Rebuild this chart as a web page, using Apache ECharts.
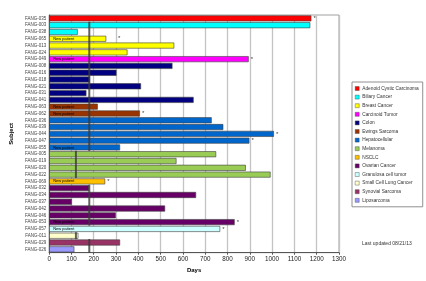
<!DOCTYPE html>
<html>
<head>
<meta charset="utf-8">
<script src="https://cdn.jsdelivr.net/npm/echarts@6/dist/echarts.min.js"></script>
<style>
  html, body { margin: 0; padding: 0; background: #fff; }
  #chart { width: 426px; height: 281px; }
</style>
</head>
<body>
<div id="chart"></div>
<script>
const subjects = [
  'FANG-035', 'FANG-003', 'FANG-038', 'FANG-065', 'FANG-013', 'FANG-024', 'FANG-049',
  'FANG-008', 'FANG-016', 'FANG-018', 'FANG-021', 'FANG-031', 'FANG-041', 'FANG-063',
  'FANG-062', 'FANG-036', 'FANG-039', 'FANG-044', 'FANG-047', 'FANG-055', 'FANG-005',
  'FANG-019', 'FANG-020', 'FANG-022', 'FANG-069', 'FANG-032', 'FANG-034', 'FANG-037',
  'FANG-042', 'FANG-046', 'FANG-053', 'FANG-057', 'FANG-011', 'FANG-029', 'FANG-026'
]
const days = [
  1176, 1171, 128, 256, 561, 351, 895,
  553, 302, 183, 412, 167, 648, 218,
  407, 729, 781, 1008, 898, 318, 749,
  571, 882, 993, 251, 179, 659, 102,
  520, 299, 832, 767, 131, 318, 113
]
// index into cancerTypes for each subject
const subjectType = [
  0, 1, 1, 2, 2, 2, 3,
  4, 4, 4, 4, 4, 4, 5,
  5, 6, 6, 6, 6, 6, 7,
  7, 7, 7, 8, 9, 9, 9,
  9, 9, 9, 10, 11, 12, 13
]
// vertical reference marks drawn on each bar (days), null = none
const markerDays = [
  null, 180, 180, 180, 180, 180, 180,
  180, 180, 180, 180, 180, 180, 180,
  180, 180, 180, 180, 180, 180, 120,
  120, 120, 120, null, 180, 180, 180,
  180, 180, 180, null, 120, 180, 180
]
const cancerTypes = [
  'Adenoid Cystic Carcinoma', 'Biliary Cancer', 'Breast Cancer', 'Carcinoid Tumor',
  'Colon', 'Ewings Sarcoma', 'Hepatocellular', 'Melanoma', 'NSCLC', 'Ovarian Cancer',
  'Granulosa cell tumor', 'Small Cell Lung Cancer', 'Synovial Sarcoma', 'Liposarcoma'
]
const typeColors = [
  '#ff0000', '#00ffff', '#ffff00', '#ff00ff', '#000080', '#993300', '#0066cc',
  '#99cc55', '#ffc000', '#660066', '#ccffff', '#ffffcc', '#993366', '#9999ff'
]
const newPatients = ['FANG-065', 'FANG-049', 'FANG-063', 'FANG-062', 'FANG-055', 'FANG-069', 'FANG-053', 'FANG-057']
// [subject, days where the asterisk sits]
const asterisks = [
  ['FANG-035', 1176], ['FANG-065', 300], ['FANG-049', 895], ['FANG-062', 407],
  ['FANG-044', 1008], ['FANG-047', 898], ['FANG-069', 251], ['FANG-053', 832], ['FANG-057', 767]
]
const xTicks = { min: 0, max: 1300, interval: 100 }

const FONT = 'Liberation Sans'
const chart = echarts.init(document.getElementById('chart'), null, { renderer: 'canvas' })

const barSeries = cancerTypes.map((name, k) => ({
  name,
  type: 'bar',
  stack: 'all',
  barCategoryGap: '12%',
  itemStyle: { color: typeColors[k], borderColor: '#404040', borderWidth: 0.6 },
  label: {
    show: true,
    position: 'insideLeft',
    distance: 4,
    fontFamily: FONT,
    fontSize: 4,
    color: '#000',
    formatter: p => (newPatients.includes(p.name) ? 'New patient' : '')
  },
  data: subjects.map((s, i) => (subjectType[i] === k ? days[i] : '-'))
}))

const markerSeries = {
  type: 'scatter',
  symbol: 'rect',
  symbolSize: [2, 7],
  itemStyle: { color: '#3a3a3a' },
  silent: true,
  z: 5,
  data: subjects.map((s, i) => (markerDays[i] == null ? null : [markerDays[i], s])).filter(d => d)
}

const starSeries = {
  type: 'scatter',
  symbolSize: 0.1,
  itemStyle: { color: 'rgba(0,0,0,0)' },
  silent: true,
  z: 6,
  label: {
    show: true,
    position: 'right',
    distance: 2,
    formatter: '*',
    fontFamily: FONT,
    fontSize: 6,
    color: '#000'
  },
  data: asterisks.map(a => [a[1], a[0]])
}

chart.setOption({
  animation: false,
  textStyle: { fontFamily: FONT },
  grid: {
    left: 40.7, right: 87, top: 15, bottom: 28.3,
    show: true, borderColor: '#a0a0a0', borderWidth: 1
  },
  legend: {
    orient: 'vertical',
    left: 352,
    top: 82,
    width: 64,
    padding: [4, 4, 4, 3],
    borderColor: '#909090',
    borderWidth: 1,
    itemWidth: 4,
    itemHeight: 4,
    itemGap: 3.6,
    icon: 'rect',
    itemStyle: { borderWidth: 0.4 },
    textStyle: { fontFamily: FONT, fontSize: 4.8, color: '#333', padding: [0, 0, 0, -2] },
    data: cancerTypes
  },
  xAxis: {
    type: 'value',
    min: xTicks.min,
    max: xTicks.max,
    interval: xTicks.interval,
    name: 'Days',
    nameLocation: 'middle',
    nameGap: 13,
    nameTextStyle: { fontFamily: FONT, fontSize: 6, fontWeight: 'bold', color: '#000' },
    axisLine: { show: true, lineStyle: { color: '#555', width: 1 } },
    axisTick: { show: true, length: 2, lineStyle: { color: '#555' } },
    axisLabel: { fontFamily: FONT, fontSize: 6.3, color: '#222', margin: 4, formatter: v => String(v) },
    splitLine: { show: true, lineStyle: { color: '#c4c4c4', width: 1.3 } }
  },
  yAxis: {
    type: 'category',
    inverse: true,
    data: subjects,
    name: 'Subject',
    nameLocation: 'middle',
    nameGap: 28,
    nameRotate: 90,
    nameTextStyle: { fontFamily: FONT, fontSize: 6, fontWeight: 'bold', color: '#000' },
    axisLine: { show: true, lineStyle: { color: '#555', width: 1 } },
    axisTick: { show: false },
    axisLabel: { fontFamily: FONT, fontSize: 4.5, color: '#444', margin: 3, interval: 0 },
    splitLine: { show: false }
  },
  graphic: [{
    type: 'text',
    left: 362,
    top: 241,
    style: { text: 'Last updated 08/21/13', fontFamily: FONT, fontSize: 5, fill: '#333' }
  }],
  series: [...barSeries, markerSeries, starSeries]
})
</script>
</body>
</html>
